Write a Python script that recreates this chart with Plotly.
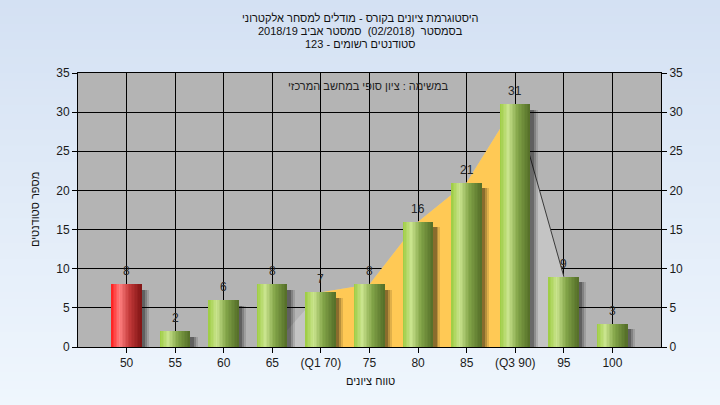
import plotly.graph_objects as go

# ---------------- data ----------------
categories = ["50", "55", "60", "65", "(Q1 70)", "75", "80", "85", "(Q3 90)", "95", "100"]
counts = [8, 2, 6, 8, 7, 8, 16, 21, 31, 9, 3]
failing = [True, False, False, False, False, False, False, False, False, False, False]

# inter-quartile band (Q1..Q3) and its surrounding envelope
iqr_x = categories[4:9]
iqr_y = counts[4:9]
env_x = categories[3:10]
env_y = [0] + counts[4:10]
tail_x = categories[8:10]
tail_y = counts[8:10]

title_lines = [
    "היסטוגרמת ציונים בקורס - מודלים למסחר אלקטרוני",
    "בסמסטר  (02/2018)  סמסטר אביב 2018/19",
    "סטודנטים רשומים - 123",
]
note_text = "במשימה : ציון סופי במחשב המרכזי"
x_title = "טווח ציונים"
y_title = "מספר סטודנטים"
y_ticks = [0, 5, 10, 15, 20, 25, 30, 35]

RLE, PDF = "\u202b", "\u202c"
def rtl(s):
    return RLE + s + PDF

FONT = "Liberation Sans, Arial, sans-serif"

# ---------------- geometry ----------------
W, H = 720, 405
ML, MR, MT, MB = 78, 59, 73, 58
PW, PH = W - ML - MR, H - MT - MB
def px(x):
    return (x - ML) / PW
def py(y):
    return (H - MB - y) / PH

fig = go.Figure()

# envelope (light grey) and IQR area (yellow) on the base subplot
fig.add_trace(go.Scatter(x=env_x, y=env_y, mode="lines", fill="tozeroy",
                         fillcolor="#c4c4c4", line=dict(width=0), hoverinfo="skip",
                         showlegend=False))
fig.add_trace(go.Scatter(x=iqr_x, y=iqr_y, mode="lines", fill="tozeroy",
                         fillcolor="#ffc955", line=dict(width=0), hoverinfo="skip",
                         showlegend=False))
fig.add_trace(go.Scatter(x=tail_x, y=tail_y, mode="lines",
                         line=dict(color="#3a3a3a", width=1), hoverinfo="skip",
                         showlegend=False))
# dummy trace for right axis
fig.add_trace(go.Scatter(x=categories[:1], y=[0], yaxis="y2", mode="markers",
                         marker=dict(opacity=0), hoverinfo="skip", showlegend=False))

BW = 0.62
# shadows (overlay subplot, above fills)
for off, alpha in [(0.15, 0.12), (0.11, 0.18), (0.07, 0.25)]:
    fig.add_trace(go.Bar(x=categories, y=[max(v - 0.7, 0) for v in counts],
                         xaxis="x2", yaxis="y3",
                         width=BW, offset=-BW / 2 + off,
                         marker=dict(color=f"rgba(0,0,0,{alpha})", line=dict(width=0)),
                         hoverinfo="skip", showlegend=False))

def interp(stops, t):
    for (t0, c0), (t1, c1) in zip(stops, stops[1:]):
        if t0 <= t <= t1:
            f = (t - t0) / (t1 - t0) if t1 > t0 else 0
            return tuple(round(a + (b - a) * f) for a, b in zip(c0, c1))
    return stops[-1][1]

green = [(0, (156, 204, 64)), (0.28, (202, 228, 142)), (0.6, (130, 164, 72)), (1.0, (84, 110, 40))]
red = [(0, (255, 28, 28)), (0.28, (255, 128, 128)), (0.6, (196, 58, 58)), (1.0, (128, 20, 20))]

N = 20
sw = BW / N
for i in range(N):
    t = (i + 0.5) / N
    g = "rgb(%d,%d,%d)" % interp(green, t)
    r = "rgb(%d,%d,%d)" % interp(red, t)
    fig.add_trace(go.Bar(x=categories, y=counts, xaxis="x2", yaxis="y3",
                         width=sw * 1.06, offset=-BW / 2 + i * sw,
                         marker=dict(color=[r if f else g for f in failing], line=dict(width=0)),
                         hoverinfo="skip", showlegend=False))

# background gradient + plot area
shapes = []
NB = 50
top, bot = (212, 225, 243), (239, 246, 253)
for i in range(NB):
    t = i / (NB - 1)
    c = tuple(round(a + (b - a) * t) for a, b in zip(top, bot))
    y0 = i * H / NB
    y1 = (i + 1) * H / NB + 1
    shapes.append(dict(type="rect", xref="paper", yref="paper",
                       x0=px(0), x1=px(W), y0=py(y0), y1=py(min(y1, H)),
                       fillcolor="rgb(%d,%d,%d)" % c, line=dict(width=0), layer="below"))
shapes.append(dict(type="rect", xref="paper", yref="paper", x0=0, x1=1, y0=0, y1=1,
                   fillcolor="#b4b4b4", line=dict(width=0), layer="below"))

annotations = []
# value labels above bars (x given as category index)
for idx, v in enumerate(counts):
    annotations.append(dict(text=str(v), x=idx, y=v, xref="x", yref="y", showarrow=False,
                            xanchor="center", yanchor="middle", yshift=13,
                            font=dict(family=FONT, size=12, color="#262626")))
for j, line in enumerate(title_lines):
    annotations.append(dict(text=rtl(line), xref="paper", yref="paper",
                            x=px(360), y=py(18 + 13 * j), showarrow=False,
                            xanchor="center", yanchor="middle",
                            font=dict(family=FONT, size=11, color="#111111")))
annotations.append(dict(text=rtl(note_text), xref="paper", yref="paper",
                        x=px(368), y=py(86), showarrow=False, xanchor="center", yanchor="middle",
                        font=dict(family=FONT, size=11, color="#222222")))
annotations.append(dict(text=rtl(x_title), xref="paper", yref="paper",
                        x=px(370), y=py(381), showarrow=False, xanchor="center", yanchor="middle",
                        font=dict(family=FONT, size=11, color="#111111")))
annotations.append(dict(text=rtl(y_title), xref="paper", yref="paper", textangle=-90,
                        x=px(35), y=py(210), showarrow=False, xanchor="center", yanchor="middle",
                        font=dict(family=FONT, size=11, color="#111111")))

axis_common = dict(showline=True, linecolor="black", linewidth=1, ticks="outside",
                   ticklen=5, tickcolor="black", zeroline=False,
                   tickfont=dict(family=FONT, size=12, color="#1a1a1a"))
cat_axis = dict(type="category", categoryorder="array", categoryarray=categories, range=[-1, 11])

fig.update_layout(
    width=W, height=H,
    margin=dict(l=ML, r=MR, t=MT, b=MB, pad=0),
    paper_bgcolor="#e4edf8", plot_bgcolor="rgba(0,0,0,0)",
    barmode="overlay", bargap=0,
    showlegend=False,
    shapes=shapes, annotations=annotations,
    xaxis=dict(showgrid=True, gridcolor="black", gridwidth=1, mirror=True,
               **cat_axis, **axis_common),
    yaxis=dict(range=[0, 35], tickvals=y_ticks, showgrid=True, gridcolor="black",
               gridwidth=1, mirror=True, **axis_common),
    yaxis2=dict(range=[0, 35], tickvals=y_ticks, overlaying="y", side="right",
                showgrid=False, **axis_common),
    xaxis2=dict(overlaying="x", visible=False, showgrid=False, **cat_axis),
    yaxis3=dict(overlaying="y", range=[0, 35], visible=False, showgrid=False, zeroline=False),
)

fig.write_html("out.html", config={"displayModeBar": False},
               post_script="document.body.style.margin='0';")
